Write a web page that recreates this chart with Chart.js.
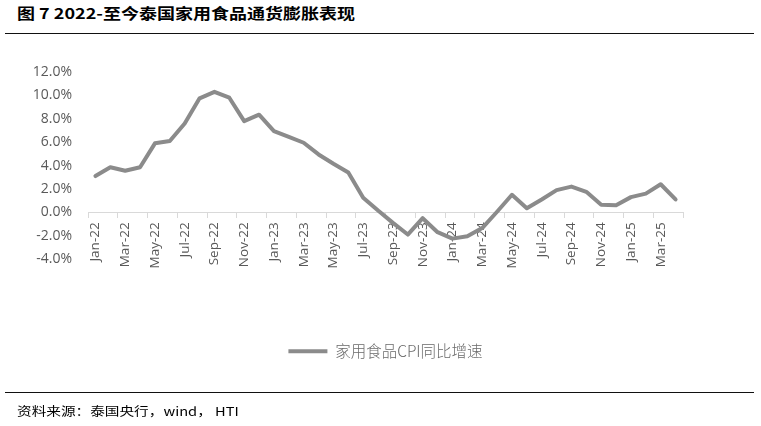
<!DOCTYPE html>
<html lang="zh-CN">
<head>
<meta charset="utf-8">
<title>2022-至今泰国家用食品通货膨胀表现</title>
<script src="https://cdn.jsdelivr.net/npm/chart.js@4.4.1/dist/chart.umd.min.js"></script>
<style>
    html, body { margin: 0; padding: 0; background: #fff; }
    #page { position: relative; width: 761px; height: 426px; overflow: hidden; }
    #chart-box { position: absolute; left: 0; top: 0; width: 761px; height: 426px; }
    .fig-title {
        position: absolute; left: 17px; top: 3px;
        font: bold 15px/20px "Noto Sans CJK SC", sans-serif; color: #000;
        white-space: pre; transform: scaleX(1.2); transform-origin: 0 0;
    }
    .rule { position: absolute; left: 5px; width: 749px; height: 1.3px; background: #111; }
    .fig-source {
        position: absolute; left: 17px; top: 404px;
        font: 12px/14px "Noto Sans CJK SC", sans-serif; color: #000;
        white-space: pre; transform: scaleX(1.22); transform-origin: 0 0;
    }
</style>
</head>
<body>
<div id="page">
    <div class="fig-title">图 7 2022-至今泰国家用食品通货膨胀表现</div>
    <div class="rule" style="top: 32.5px;"></div>
    <div id="chart-box"><canvas id="food-cpi-chart"></canvas></div>
    <div class="rule" style="top: 392px;"></div>
    <div class="fig-source">资料来源：泰国央行，wind， HTI</div>
</div>
<script>
// Dados (% a/a)
const months = [
    'Jan-22', 'Feb-22', 'Mar-22', 'Apr-22', 'May-22', 'Jun-22', 'Jul-22', 'Aug-22', 'Sep-22', 'Oct-22', 'Nov-22', 'Dec-22',
    'Jan-23', 'Feb-23', 'Mar-23', 'Apr-23', 'May-23', 'Jun-23', 'Jul-23', 'Aug-23', 'Sep-23', 'Oct-23', 'Nov-23', 'Dec-23',
    'Jan-24', 'Feb-24', 'Mar-24', 'Apr-24', 'May-24', 'Jun-24', 'Jul-24', 'Aug-24', 'Sep-24', 'Oct-24', 'Nov-24', 'Dec-24',
    'Jan-25', 'Feb-25', 'Mar-25', 'Apr-25'
];
const foodCpiYoY = [
    3.10, 3.85, 3.55, 3.85, 5.90, 6.10, 7.60, 9.75, 10.30, 9.80, 7.80, 8.35,
    6.95, 6.45, 5.95, 4.95, 4.15, 3.40, 1.25, 0.15, -0.90, -1.90, -0.50, -1.70,
    -2.25, -2.05, -1.35, 0.05, 1.50, 0.35, 1.10, 1.90, 2.20, 1.75, 0.65, 0.60,
    1.30, 1.60, 2.40, 1.10
];
const seriesName = '家用食品CPI同比增速';
const yMin = -4;
const yMax = 12;
const yStep = 2;

const lineColor = '#8b8b8b';
const axisColor = '#d9d9d9';
const labelColor = '#595959';

const ctx = document.getElementById('food-cpi-chart').getContext('2d');

new Chart(ctx, {
    type: 'line',
    data: {
        labels: months,
        datasets: [{
            label: seriesName,
            data: foodCpiYoY,
            borderColor: lineColor,
            backgroundColor: lineColor,
            borderWidth: 4,
            borderJoinStyle: 'round',
            borderCapStyle: 'round',
            pointStyle: 'line',
            pointRadius: 0,
            pointHoverRadius: 0,
            tension: 0,
            fill: false
        }]
    },
    options: {
        responsive: true,
        maintainAspectRatio: false,
        animation: false,
        layout: {
            padding: { left: 0, right: 78, top: 72, bottom: 57 }
        },
        plugins: {
            tooltip: { enabled: false },
            legend: {
                position: 'bottom',
                fullSize: false,
                // título vazio só para empurrar a legenda para baixo
                title: { display: true, text: '', padding: { top: 60, bottom: 0 } },
                labels: {
                    usePointStyle: true,
                    pointStyle: 'line',
                    pointStyleWidth: 39,
                    padding: 10,
                    color: '#6a6a6a',
                    font: { family: '"Noto Sans CJK SC", sans-serif', size: 15.5, weight: 300 }
                }
            }
        },
        scales: {
            x: {
                type: 'category',
                position: { y: 0 },
                offset: true,
                grid: {
                    offset: true,
                    drawOnChartArea: false,
                    drawTicks: true,
                    tickLength: 5,
                    tickWidth: 1,
                    tickColor: function(c) {
                        return (c.type !== 'tick' || c.index % 2 === 0) ? axisColor : 'rgba(0,0,0,0)';
                    }
                },
                border: { color: axisColor, width: 1 },
                ticks: {
                    autoSkip: false,
                    maxRotation: 90,
                    minRotation: 90,
                    padding: 5,
                    color: labelColor,
                    font: { family: '"Open Sans", sans-serif', size: 13.5 },
                    callback: function(value, index) {
                        return index % 2 === 0 ? months[index] : '';
                    }
                }
            },
            y: {
                min: yMin,
                max: yMax,
                grid: { display: false, drawTicks: false },
                border: { display: false },
                ticks: {
                    stepSize: yStep,
                    padding: 16,
                    color: labelColor,
                    font: { family: '"Open Sans", sans-serif', size: 14 },
                    callback: function(value) {
                        return value.toFixed(1) + '%';
                    }
                },
                afterFit: function(scale) {
                    scale.width = 88;
                }
            }
        }
    }
});
</script>
</body>
</html>
